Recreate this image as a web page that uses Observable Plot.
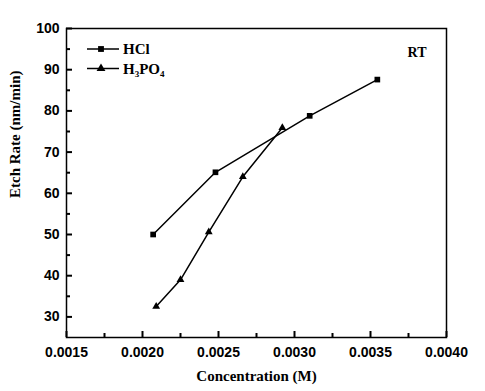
<!DOCTYPE html>
<html><head><meta charset="utf-8">
<script src="https://cdn.jsdelivr.net/npm/d3@7"></script>
<script src="https://cdn.jsdelivr.net/npm/@observablehq/plot@0.6"></script>
<style>
body{margin:0;background:#fff}
g[aria-label="xtitle"] text{letter-spacing:0.6px}
g[aria-label="ytitle"] text{letter-spacing:1.6px;word-spacing:4px}
</style></head><body><div id="chart"></div>
<script>
const hclConc = [0.00207, 0.00248, 0.00310, 0.003545];
const hclRate = [50, 65.1, 78.8, 87.6];
const h3po4Conc = [0.00209, 0.00225, 0.002436, 0.00266, 0.00292];
const h3po4Rate = [32.5, 39, 50.6, 64, 75.9];
const xTicks = [0.0015, 0.0020, 0.0025, 0.0030, 0.0035, 0.0040];
const xMinor = [0.00175, 0.00225, 0.00275, 0.00325, 0.00375];
const yTicks = [30, 40, 50, 60, 70, 80, 90, 100];
const yMinor = [35, 45, 55, 65, 75, 85, 95];
const xTitle = "Concentration (M)";
const yTitle = "Etch Rate (nm/min)";
const annot = "RT";

const hcl = hclConc.map((c, i) => ({c, r: hclRate[i]}));
const h3 = h3po4Conc.map((c, i) => ({c, r: h3po4Rate[i]}));

const serif = "'Liberation Serif', 'Times New Roman', serif";
const W = 485, H = 391, mL = 66, mR = 39, mT = 28, mB = 54;
const fw = W - mL - mR, fh = H - mT - mB;

const legend = (index, scales, values, dims) => {
  const g = d3.create("svg:g").attr("font-family", serif).attr("font-weight", "bold").attr("font-size", 15).attr("text-anchor", "start");
  const rows = [
    {y: 49, sym: d3.symbolSquare, size: 34, label: [["HCl", 0]]},
    {y: 68.5, sym: d3.symbolTriangle, size: 34, label: [["H", 0], ["3", 3], ["PO", -3], ["4", 3]]}
  ];
  for (const r of rows) {
    g.append("line").attr("x1", 87).attr("x2", 119).attr("y1", r.y).attr("y2", r.y)
      .attr("stroke", "#000").attr("stroke-width", 1.5);
    g.append("path").attr("d", d3.symbol(r.sym, r.size)()).attr("transform", `translate(101,${r.y})`).attr("fill", "#000");
    const t = g.append("text").attr("x", 123).attr("y", r.y + 5).attr("text-anchor", "start");
    for (const [s, dy] of r.label) {
      const ts = t.append("tspan").text(s).attr("dy", dy);
      if (dy > 0) ts.attr("font-size", 9);
    }
  }
  return g.node();
};

const chart = Plot.plot({
  width: W,
  height: H,
  marginLeft: mL,
  marginRight: mR,
  marginTop: mT,
  marginBottom: mB,
  style: {fontFamily: "'Liberation Sans', Arial, sans-serif", background: "#fff", color: "#000"},
  x: {domain: [0.0015, 0.0040]},
  y: {domain: [25, 100]},
  marks: [
    Plot.axisX({ticks: xTicks, tickSize: 0, tickPadding: 10, tickFormat: d3.format(".4f"), label: null, fontSize: 14, fontWeight: "bold"}),
    Plot.axisY({ticks: yTicks, tickSize: 0, tickPadding: 7, tickFormat: d3.format("d"), label: null, fontSize: 14, fontWeight: "bold"}),
    Plot.frame({stroke: "#000", strokeWidth: 1.5}),
    Plot.ruleX(xTicks, {x: d => d, insetTop: fh - 6, stroke: "#000", strokeWidth: 2}),
    Plot.ruleX(xMinor, {x: d => d, insetTop: fh - 4, stroke: "#000", strokeWidth: 2}),
    Plot.ruleY(yTicks, {y: d => d, insetRight: fw - 6, stroke: "#000", strokeWidth: 2}),
    Plot.ruleY(yMinor, {y: d => d, insetRight: fw - 4, stroke: "#000", strokeWidth: 2}),
    Plot.line(hcl, {x: "c", y: "r", stroke: "#000", strokeWidth: 1.5}),
    Plot.dot(hcl, {x: "c", y: "r", symbol: "square", r: 3.2, fill: "#000"}),
    Plot.line(h3, {x: "c", y: "r", stroke: "#000", strokeWidth: 1.5}),
    Plot.dot(h3, {x: "c", y: "r", symbol: "triangle", r: 2.9, fill: "#000"}),
    Plot.text([xTitle], {frameAnchor: "bottom", dy: 43, text: d => d, fontFamily: serif, fontWeight: "bold", fontSize: 15, ariaLabel: "xtitle"}),
    Plot.text([yTitle], {frameAnchor: "left", dx: -51, dy: 15, rotate: -90, text: d => d, fontFamily: serif, fontWeight: "bold", fontSize: 15, ariaLabel: "ytitle"}),
    Plot.text([annot], {frameAnchor: "top-right", dx: -20, dy: 19, text: d => d, fontFamily: serif, fontWeight: "bold", fontSize: 14}),
    legend
  ]
});
document.getElementById("chart").appendChild(chart);
</script></body></html>
